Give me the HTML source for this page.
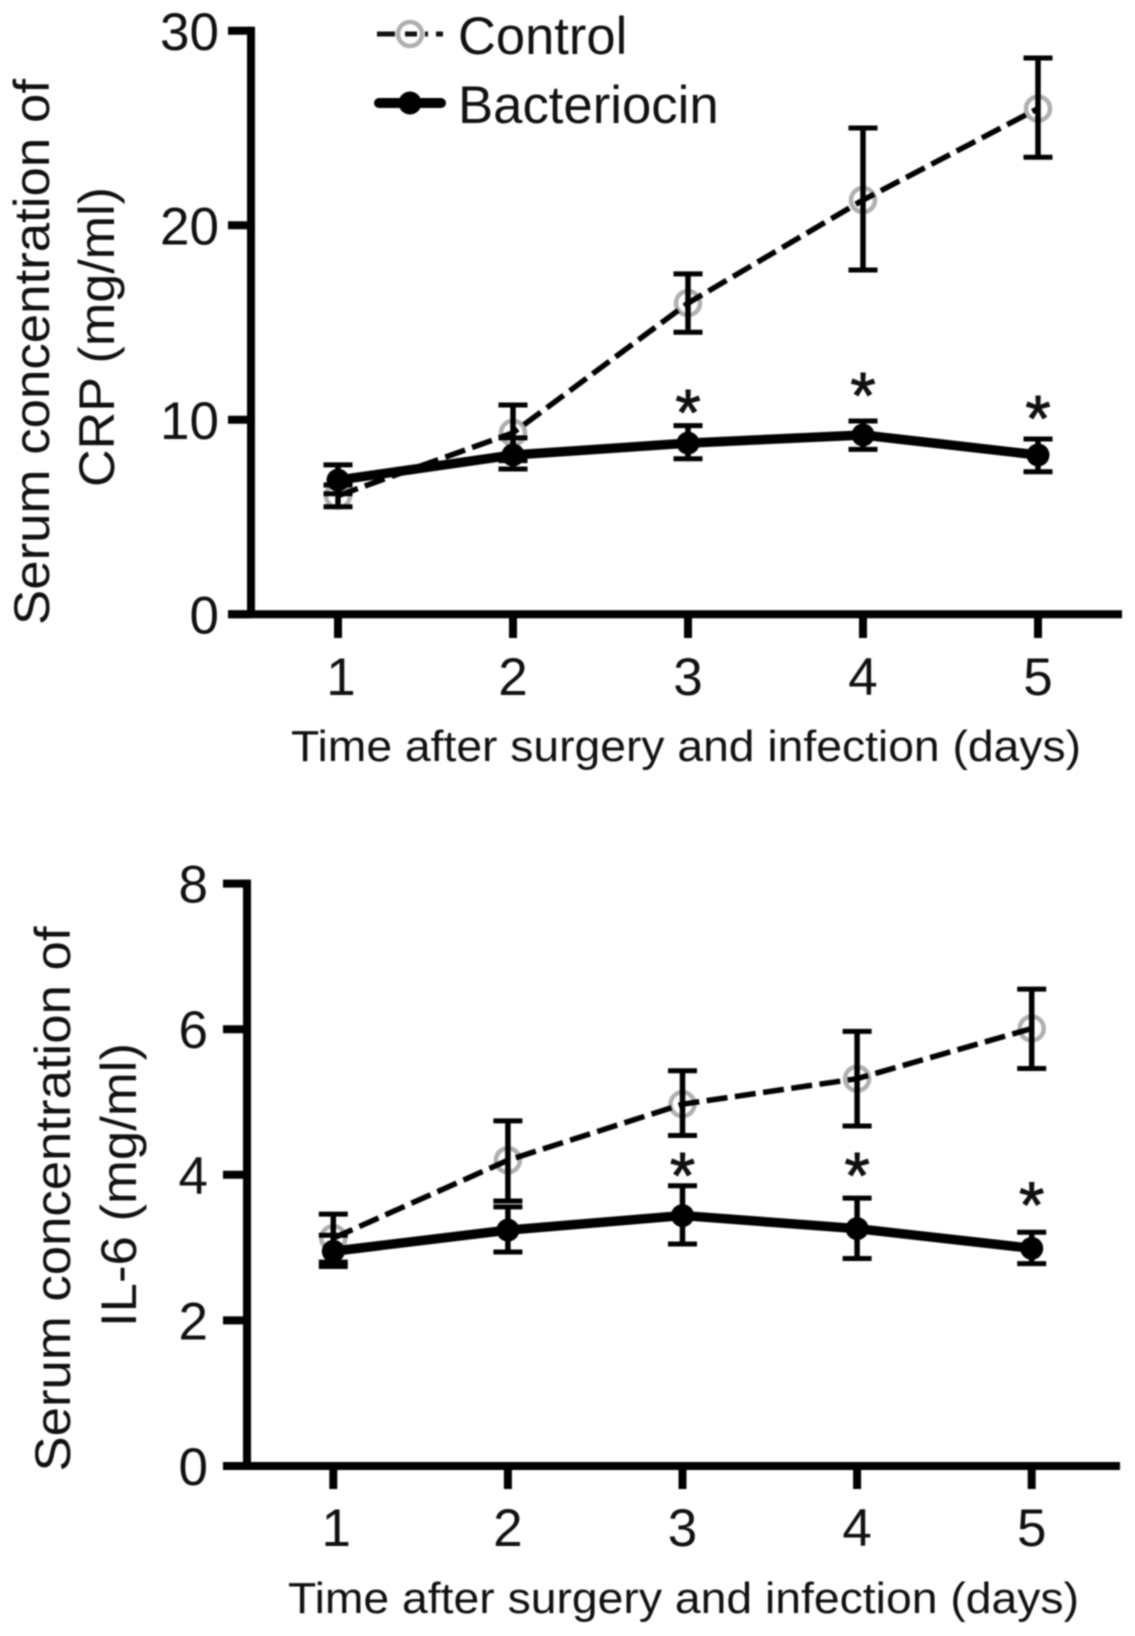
<!DOCTYPE html>
<html>
<head>
<meta charset="utf-8">
<style>
html,body{margin:0;padding:0;background:#fff;}
svg{display:block;filter:blur(0.8px);}
text{font-family:"Liberation Sans",sans-serif;fill:#111;}
</style>
</head>
<body>
<svg id="chart" xmlns="http://www.w3.org/2000/svg" width="1135" height="1636" viewBox="0 0 1135 1636">
  <rect x="0" y="0" width="1135" height="1636" fill="#fff"/>
  <g id="panel-a"></g>
  <g id="panel-b"></g>

  <text font-size="50" text-anchor="middle" textLength="546" lengthAdjust="spacingAndGlyphs" transform="translate(49,352) rotate(-90)">Serum concentration of</text>
  <text font-size="50" text-anchor="middle" textLength="300" lengthAdjust="spacingAndGlyphs" transform="translate(114,337) rotate(-90)">CRP (mg/ml)</text>
  <text font-size="44" x="291" y="761" textLength="790" lengthAdjust="spacingAndGlyphs">Time after surgery and infection (days)</text>

  <text font-size="50" text-anchor="middle" textLength="545" lengthAdjust="spacingAndGlyphs" transform="translate(70,1199) rotate(-90)">Serum concentration of</text>
  <text font-size="50" text-anchor="middle" textLength="284" lengthAdjust="spacingAndGlyphs" transform="translate(136,1185) rotate(-90)">IL-6 (mg/ml)</text>
  <text font-size="44" x="288" y="1613" textLength="791" lengthAdjust="spacingAndGlyphs">Time after surgery and infection (days)</text>

  <g>
    <g>
      <circle cx="410" cy="34" r="12" fill="none" stroke="#b0b0b0" stroke-width="4.5"/>
      <line x1="377" y1="34" x2="443" y2="34" stroke="#111" stroke-width="5" stroke-dasharray="18 10 12 8 3 8 7"/>
      <text font-size="52.5" x="458" y="54">Control</text>
    </g>
    <g>
      <line x1="379" y1="103" x2="441" y2="103" stroke="#000" stroke-width="10" stroke-linecap="round"/>
      <circle cx="410" cy="103" r="11.5" fill="#000"/>
      <text font-size="52.7" x="458" y="123">Bacteriocin</text>
    </g>
  </g>
</svg>
<script>
var days = [1, 2, 3, 4, 5];

var crpTicks = [0, 10, 20, 30];
var crpControl = [6.1, 9.33, 16, 21.3, 26];
var crpControlUpper = [6.65, 10.76, 17.5, 25, 28.6];
var crpControlLower = [5.53, 7.9, 14.5, 17.7, 23.5];
var crpBacteriocin = [6.9, 8.19, 8.8, 9.22, 8.19];
var crpBacteriocinUpper = [7.68, 9.07, 9.7, 9.94, 9.01];
var crpBacteriocinLower = [6.2, 7.47, 8, 8.48, 7.33];
var crpStarValues = [null, null, 10.81, 11.69, 10.5];

var il6Ticks = [0, 2, 4, 6, 8];
var il6Control = [3.13, 4.2, 4.97, 5.32, 6.01];
var il6ControlUpper = [3.46, 4.74, 5.43, 5.97, 6.55];
var il6ControlLower = [2.8, 3.64, 4.54, 4.67, 5.46];
var il6Bacteriocin = [2.95, 3.24, 3.44, 3.26, 2.99];
var il6BacteriocinUpper = [3.17, 3.56, 3.85, 3.68, 3.21];
var il6BacteriocinLower = [2.74, 2.94, 3.05, 2.85, 2.78];
var il6StarValues = [null, null, 4.11, 4.11, 3.7];

var NS = 'http://www.w3.org/2000/svg';

function make(parent, tag, attrs) {
  var el = document.createElementNS(NS, tag);
  for (var k in attrs) el.setAttribute(k, attrs[k]);
  parent.appendChild(el);
  return el;
}

function drawPanel(cfg) {
  var g = cfg.group;
  var xOf = function (d) { return cfg.x1 + (d - days[0]) * cfg.xStep; };
  var yOf = function (v) { return cfg.y0 - v * cfg.yScale; };
  var top = yOf(cfg.ticks[cfg.ticks.length - 1]);

  var yAxis = make(g, 'line', {x1: cfg.axisX, y1: top - cfg.axisW / 2, x2: cfg.axisX, y2: cfg.y0, stroke: '#000', 'stroke-width': cfg.axisW});
  
  

  var xAxis = make(g, 'line', {x1: cfg.tickLeft, y1: cfg.y0, x2: cfg.xRight, y2: cfg.y0, stroke: '#000', 'stroke-width': cfg.axisW});
  
  

  cfg.ticks.forEach(function (t) {
    var tk = make(g, 'line', {x1: cfg.tickLeft, y1: yOf(t), x2: cfg.axisX, y2: yOf(t), stroke: '#000', 'stroke-width': cfg.axisW});
    
    
    var lb = make(g, 'text', {x: cfg.yLabelRight, y: yOf(t) + 19, 'font-size': cfg.tickFont, 'text-anchor': 'end'});
    lb.textContent = String(t);
    
    
  });

  days.forEach(function (d) {
    var tk = make(g, 'line', {x1: xOf(d), y1: cfg.y0, x2: xOf(d), y2: cfg.tickBottom, stroke: '#000', 'stroke-width': cfg.axisW});
    
    
    var lb = make(g, 'text', {x: xOf(d) + (d === 1 ? 3 : 0), y: cfg.xLabelBase, 'font-size': cfg.tickFont, 'text-anchor': 'middle'});
    lb.textContent = String(d);
    
    
  });

  function errorBars(upper, lower, seriesName) {
    days.forEach(function (d, i) {
      var cap = 14.5;
      var stem = make(g, 'line', {x1: xOf(d), y1: yOf(upper[i]), x2: xOf(d), y2: yOf(lower[i]), stroke: '#000', 'stroke-width': 5.5});
      
      
      var capTop = make(g, 'line', {x1: xOf(d) - cap, y1: yOf(upper[i]), x2: xOf(d) + cap, y2: yOf(upper[i]), stroke: '#000', 'stroke-width': 5});
      
      
      var capBot = make(g, 'line', {x1: xOf(d) - cap, y1: yOf(lower[i]), x2: xOf(d) + cap, y2: yOf(lower[i]), stroke: '#000', 'stroke-width': 5});
      
      
    });
  }

  function points(values) {
    return values.map(function (v, i) { return xOf(days[i]) + ',' + yOf(v); }).join(' ');
  }

  cfg.control.forEach(function (v, i) {
    var c = make(g, 'circle', {cx: xOf(days[i]), cy: yOf(v), r: 12, fill: 'none', stroke: '#b0b0b0', 'stroke-width': 4.5});
    
    
  });
  errorBars(cfg.controlUpper, cfg.controlLower, 'control');
  var ctl = make(g, 'polyline', {points: points(cfg.control), fill: 'none', stroke: '#000', 'stroke-width': 5.5, 'stroke-dasharray': '21 7.5'});
  
  

  errorBars(cfg.bactUpper, cfg.bactLower, 'bacteriocin');
  var bac = make(g, 'polyline', {points: points(cfg.bact), fill: 'none', stroke: '#000', 'stroke-width': cfg.bactW, 'stroke-linejoin': 'round'});
  
  
  cfg.bact.forEach(function (v, i) {
    var c = make(g, 'circle', {cx: xOf(days[i]), cy: yOf(v), r: 11.5, fill: '#000'});
    
    
  });

  cfg.stars.forEach(function (v, i) {
    if (v === null) return;
    var s = make(g, 'text', {x: xOf(days[i]), y: yOf(v) + 31, 'font-size': 65, 'text-anchor': 'middle', stroke: '#111', 'stroke-width': 1});
    s.textContent = '*';
    
    
  });
}

drawPanel({
  group: document.getElementById('panel-a'),
  x1: 338, xStep: 175, y0: 614.3, yScale: 19.45,
  axisX: 251, axisW: 8, tickLeft: 228, xRight: 1122, tickBottom: 638,
  yLabelRight: 219, xLabelBase: 695, tickFont: 53, bactW: 9.5,
  ticks: crpTicks, control: crpControl, controlUpper: crpControlUpper, controlLower: crpControlLower,
  bact: crpBacteriocin, bactUpper: crpBacteriocinUpper, bactLower: crpBacteriocinLower, stars: crpStarValues
});

drawPanel({
  group: document.getElementById('panel-b'),
  x1: 333.3, xStep: 174.6, y0: 1466, yScale: 72.8,
  axisX: 247, axisW: 8, tickLeft: 223, xRight: 1120, tickBottom: 1489,
  yLabelRight: 208, xLabelBase: 1546, tickFont: 53, bactW: 9.5,
  ticks: il6Ticks, control: il6Control, controlUpper: il6ControlUpper, controlLower: il6ControlLower,
  bact: il6Bacteriocin, bactUpper: il6BacteriocinUpper, bactLower: il6BacteriocinLower, stars: il6StarValues
});
</script>
</body>
</html>
